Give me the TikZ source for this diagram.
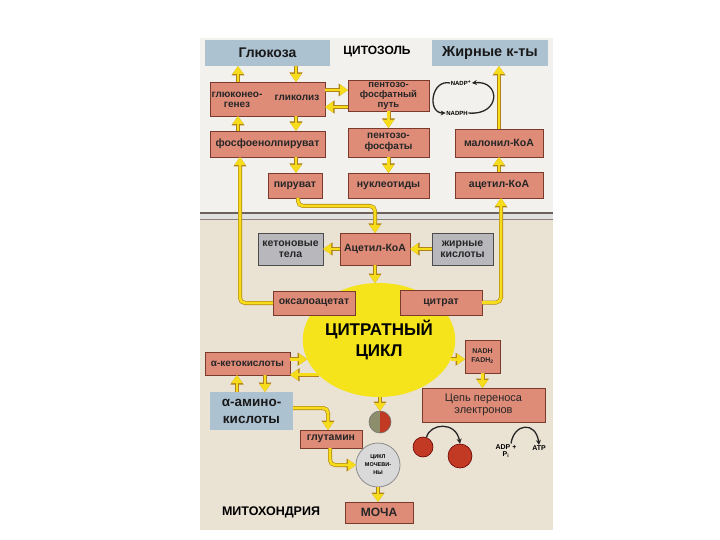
\documentclass[tikz,border=0pt]{standalone}
\usepackage{fontspec}
\setmainfont{Liberation Sans}
\usetikzlibrary{arrows.meta,shapes.geometric}
\definecolor{salmon}{HTML}{DE8B78}
\definecolor{salmonedge}{HTML}{7A3A2C}
\definecolor{bluebox}{HTML}{ADC2D1}
\definecolor{graybox}{HTML}{B8B8BC}
\definecolor{cytobg}{HTML}{F2F1EE}
\definecolor{mitobg}{HTML}{EAE2D3}
\definecolor{ylw}{HTML}{F6DC1A}
\definecolor{ylwedge}{HTML}{B08418}
\definecolor{cyc}{HTML}{F5E41C}
\definecolor{redball}{HTML}{C33A24}
\definecolor{greenball}{HTML}{8C8E6C}
\definecolor{membr}{HTML}{6D625B}
\newcommand\bx[7]{\node[#1, minimum width={(#5-#3)*1pt}, minimum height={(#6-#4)*1pt}] (#2) at ({(#3+#5)/2},{(#4+#6)/2}) {#7};}
\begin{document}
\begin{tikzpicture}[x=1pt,y=-1pt,
  sbox/.style={draw=salmonedge, line width=0.9pt, fill=salmon, inner sep=0pt, outer sep=0pt, align=center,
    font=\fontsize{10.5}{10.5}\selectfont\bfseries, text=black!85},
  bbox/.style={fill=bluebox, inner sep=0pt, outer sep=0pt, align=center, text=black!90},
  gbox/.style={draw=black!70, line width=1pt, fill=graybox, inner sep=0pt, outer sep=0pt, align=center,
    font=\fontsize{10.5}{10.5}\selectfont\bfseries, text=black!85},
  lbl/.style={inner sep=0.5pt, font=\fontsize{6}{7}\selectfont\bfseries, align=center},
  ya/.style={line width=2.8pt, draw=ylw, -{Triangle[width=10.5pt,length=8pt]},
    preaction={draw=ylwedge, line width=4pt, -{Triangle[width=12.5pt,length=9.5pt]}}},
  ka/.style={line width=1.3pt, draw=black!85, -{Stealth[length=5pt,width=5pt]}}
]
\useasboundingbox (0,0) rectangle (720,540);
% backgrounds
\fill[cytobg] (200,38) rectangle (553,213);
\fill[mitobg] (200,213) rectangle (553,530);
\fill[black!12] (200,212) rectangle (553,220);
\draw[membr, line width=2pt] (200,213) -- (553,213);
\draw[membr!80, line width=1.2pt] (200,219.5) -- (553,219.5);
% citrate cycle
\node[ellipse, fill=cyc, minimum width=128pt, minimum height=114pt, inner sep=0pt, outer sep=0pt,
  font=\fontsize{17}{21}\selectfont\bfseries, align=center] (cc) at (379,340) {ЦИТРАТНЫЙ\\ЦИКЛ};
% headers
\bx{bbox, font=\fontsize{14}{14}\selectfont\bfseries}{glucose}{205}{40}{330}{66}{Глюкоза}
\bx{bbox, font=\fontsize{14.5}{14.5}\selectfont\bfseries}{fattop}{432}{40}{548}{66}{Жирные к-ты}
\node[font=\fontsize{12}{12}\selectfont\bfseries] (cyto) at (377,52) {ЦИТОЗОЛЬ};
% cytosol boxes
\bx{sbox, font=\fontsize{10}{10}\selectfont\bfseries}{glyco}{210}{82}{325}{116}{}
\node[font=\fontsize{10}{10}\selectfont\bfseries, align=center, text=black!85] (gng) at (237,100) {глюконео-\\генез};
\node[font=\fontsize{10}{10}\selectfont\bfseries, text=black!85] (glk) at (297,98) {гликолиз};
\bx{sbox, font=\fontsize{9.5}{10}\selectfont\bfseries}{pent}{348}{80}{429}{111}{пентозо-\\фосфатный\\путь}
\bx{sbox}{pep}{210}{131}{325}{157}{фосфоенолпируват}
\bx{sbox, font=\fontsize{10}{10.5}\selectfont\bfseries}{pentph}{348}{128}{429}{157}{пентозо-\\фосфаты}
\bx{sbox}{mal}{455}{129}{543}{157}{малонил-КоА}
\bx{sbox}{pyr}{268}{173}{322}{198}{пируват}
\bx{sbox}{nucl}{348}{173}{429}{198}{нуклеотиды}
\bx{sbox}{acc}{455}{172}{543}{198}{ацетил-КоА}
\node[lbl] (nadpp) at (461,83) {NADP\textsuperscript{+}};
\node[lbl] (nadph) at (457,113) {NADPH};
% mitochondrial boxes
\bx{gbox}{ket}{258}{233}{323}{265}{кетоновые\\тела}
\bx{sbox}{acm}{340}{233}{410}{265}{Ацетил-КоА}
\bx{gbox}{fam}{432}{233}{493}{265}{жирные\\кислоты}
\bx{sbox}{oxa}{273}{291}{355}{315}{оксалоацетат}
\bx{sbox}{cit}{400}{290}{482}{315}{цитрат}
\bx{sbox, font=\fontsize{10}{10}\selectfont\bfseries}{keto}{205}{352}{290}{375}{α-кетокислоты}
\bx{bbox, font=\fontsize{13.5}{17}\selectfont\bfseries}{amino}{210}{392}{293}{430}{α-амино-\\кислоты}
\bx{sbox, font=\fontsize{7}{9}\selectfont\bfseries}{nadh}{465}{340}{500}{373}{NADH\\FADH\textsubscript{2}}
\bx{sbox, font=\fontsize{11}{12}\selectfont}{etc}{422}{388}{545}{422}{Цепь переноса\\электронов}
\bx{sbox}{glut}{300}{430}{362}{448}{глутамин}
\bx{sbox, font=\fontsize{12}{12}\selectfont\bfseries}{urine}{345}{502}{413}{523}{МОЧА}
\node[font=\fontsize{12.5}{12.5}\selectfont\bfseries] (mito) at (271,512) {МИТОХОНДРИЯ};
% urea cycle and balls
\node[circle, fill=black!15, draw=black!45, line width=0.8pt, minimum size=44pt, inner sep=0pt, outer sep=0pt,
  font=\fontsize{5.5}{8}\selectfont\bfseries, align=center] (uc) at (378,465) {ЦИКЛ\\МОЧЕВИ-\\НЫ};
\node[circle, minimum size=22pt, inner sep=0pt, outer sep=0pt] (ball) at (380,422) {};
\fill[greenball] (ball.north) arc[start angle=90, end angle=270, radius=11pt] -- cycle;
\fill[redball] (ball.south) arc[start angle=-90, end angle=90, radius=11pt] -- cycle;
\draw[black!55, line width=0.6pt] (ball.center) circle[radius=11pt];
\node[circle, fill=redball, draw=red!40!black, line width=0.6pt, minimum size=20pt, inner sep=0pt] (rb1) at (423,447) {};
\node[circle, fill=redball, draw=red!40!black, line width=0.6pt, minimum size=24pt, inner sep=0pt] (rb2) at (460,456) {};
\node[lbl, font=\fontsize{7}{7.5}\selectfont\bfseries] (adp) at (506,451) {ADP +\\P\textsubscript{i}};
\node[lbl, font=\fontsize{7}{7.5}\selectfont\bfseries] (atp) at (539,448) {ATP};
% black arcs
\draw[ka] (nadpp.west) .. controls (431,79) and (427,113) .. (nadph.west);
\draw[ka] (nadph.east) .. controls (501,116) and (501,80) .. (nadpp.east);
\draw[ka] (rb1.70) .. controls (430,423) and (456,421) .. (rb2.north);
\draw[ka] ([xshift=5pt]adp.north) .. controls (514,423) and (536,421) .. (atp.north);
% yellow arrows
\draw[ya] ([xshift=28pt]glyco.north west) -- ([xshift=33pt]glucose.south west);
\draw[ya] ([xshift=91pt]glucose.south west) -- ([xshift=86pt]glyco.north west);
\draw[ya] ([xshift=28pt]pep.north west) -- ([xshift=28pt]glyco.south west);
\draw[ya] ([xshift=86pt]glyco.south west) -- ([xshift=86pt]pep.north west);
\draw[ya] ([xshift=86pt]pep.south west) -- ([xshift=1pt]pyr.north);
\draw[ya] ([yshift=9pt]glyco.east) -- ([yshift=5.5pt]pent.west);
\draw[ya] ([yshift=-11.5pt]pent.west) -- ([yshift=-8pt]glyco.east);
\draw[ya] (pent.south) -- (pentph.north);
\draw[ya] (pentph.south) -- (nucl.north);
\draw[ya] (mal.north) -- ([xshift=9pt]fattop.south);
\draw[ya] (acc.north) -- (mal.south);
\draw[ya, rounded corners=5pt] ([xshift=3pt]pyr.south) -- ++(0,8) -| (acm.north);
\draw[ya] (acm.west) -- (ket.east);
\draw[ya] (fam.west) -- (acm.east);
\draw[ya] (acm.south) -- (acm.south |- cc.north);
\draw[ya, rounded corners=5pt] (oxa.west) -| ([xshift=30pt]pep.south west);
\draw[ya, rounded corners=5pt] (cit.east) -| ([xshift=2pt]acc.south);
\draw[ya] (keto.east |- cc.195) -- (cc.195);
\draw[ya] (cc.210) -- (keto.east |- cc.210);
\draw[ya] ([xshift=27pt]amino.north west) -- ([xshift=32pt]keto.south west);
\draw[ya] ([xshift=60pt]keto.south west) -- ([xshift=55pt]amino.north west);
\draw[ya, rounded corners=5pt] ([yshift=3pt]amino.east) -| ([xshift=-3pt]glut.north);
\draw[ya, rounded corners=5pt] ([xshift=-1pt]glut.south) |- (uc.west);
\draw[ya] (ball.north |- cc.south) -- (ball.north);
\draw[ya] (uc.south) -- (uc.south |- urine.north);
\draw[ya] (cc.345) -- (nadh.west |- cc.345);
\draw[ya] (nadh.south) -- (nadh.south |- etc.north);
\end{tikzpicture}
\end{document}
